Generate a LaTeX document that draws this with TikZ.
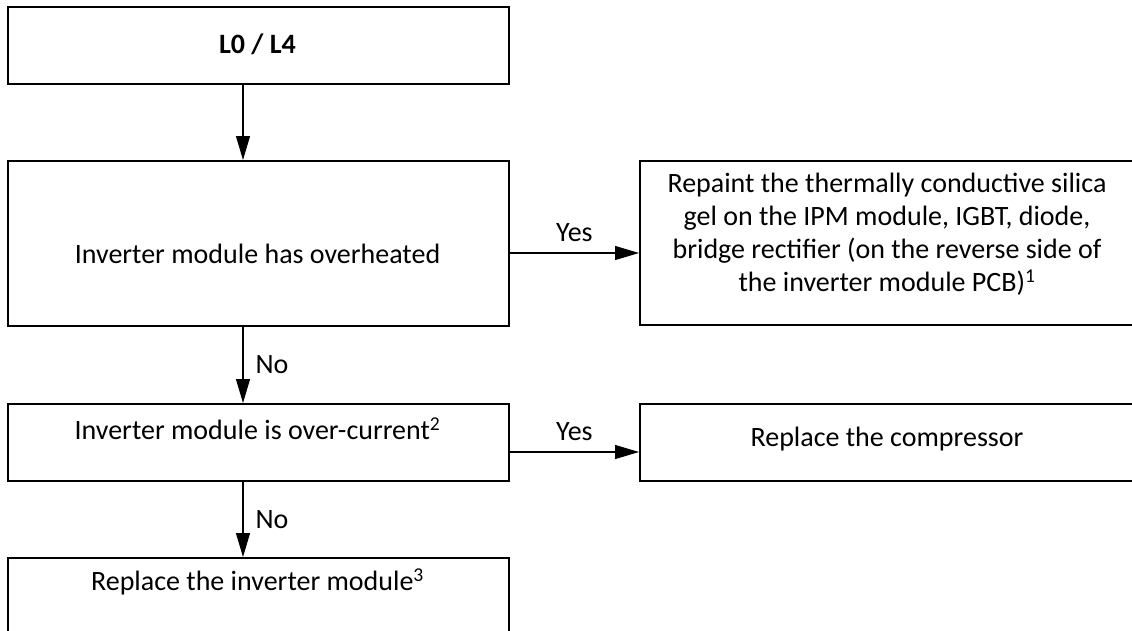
\documentclass[tikz,border=0pt]{standalone}
\usepackage{fontspec}
\setmainfont{Carlito}
\usetikzlibrary{arrows.meta}
\begin{document}
\begin{tikzpicture}[x=1pt,y=-1pt,
  box/.style={draw, line width=1.8pt, rectangle, inner sep=0pt, anchor=north west},
  txt/.style={font=\fontsize{28}{33}\selectfont, align=center, inner sep=0pt},
  arr/.style={line width=1.1pt, -{Triangle[length=24pt,width=14pt]}},
  lbl/.style={font=\fontsize{28}{30}\selectfont, inner sep=0pt}]
\useasboundingbox (0,0) rectangle (1132,630);
\fill[white] (0,0) rectangle (1132,630);
\clip (0,0) rectangle (1132,630);
% boxes
\node[box, minimum width=501pt, minimum height=77pt] (b1) at (7,6) {};
\node[box, minimum width=501pt, minimum height=165pt] (b2) at (7,160) {};
\node[box, minimum width=501pt, minimum height=77pt] (b3) at (7,403) {};
\node[box, minimum width=501pt, minimum height=120pt] (b4) at (7,557) {};
\node[box, minimum width=520pt, minimum height=164pt] (r1) at (639,160) {};
\node[box, minimum width=520pt, minimum height=77pt] (r2) at (639,403) {};
% texts
\node[txt, font=\fontsize{28}{33}\selectfont\bfseries] (t1) at (257.5,44) {L0 / L4};
\node[txt] (t2) at (257.5,254) {Inverter module has overheated};
\node[txt] (t3) at (257.5,429) {Inverter module is over-current\textsuperscript{2}};
\node[txt] (t4) at (257.5,582) {Replace the inverter module\textsuperscript{3}};
\node[txt] (t5) at (887,234) {Repaint the thermally conductive silica\\gel on the IPM module, IGBT, diode,\\bridge rectifier (on the reverse side of\\the inverter module PCB)\textsuperscript{1}};
\node[txt] (t6) at (887,439) {Replace the compressor};
% connectors
\coordinate (ax) at (243,0);
\coordinate (y1) at (0,253);
\coordinate (y2) at (0,452);
\draw[arr] (b1.south -| ax) -- (b2.north -| ax);
\draw[arr] (b2.south -| ax) -- (b3.north -| ax) node[lbl, midway, right=12pt] (no1) {No};
\draw[arr] (b3.south -| ax) -- (b4.north -| ax) node[lbl, midway, right=12pt] (no2) {No};
\draw[arr] (b2.east |- y1) -- (r1.west |- y1) node[lbl, midway, above=11pt] (yes1) {Yes};
\draw[arr] (b3.east |- y2) -- (r2.west |- y2) node[lbl, midway, above=11pt] (yes2) {Yes};
\end{tikzpicture}
\end{document}
